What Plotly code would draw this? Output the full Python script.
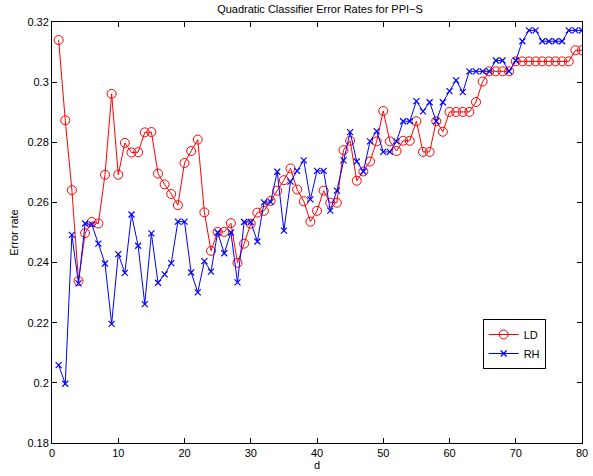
import plotly.graph_objects as go

d = list(range(1, 81))

ld = [0.3140, 0.2873, 0.2641, 0.2339, 0.2498, 0.2535, 0.2530, 0.2692, 0.2961, 0.2692,
      0.2798, 0.2766, 0.2767, 0.2833, 0.2834, 0.2696, 0.2660, 0.2628, 0.2591, 0.2731,
      0.2771, 0.2809, 0.2567, 0.2439, 0.2502, 0.2502, 0.2531, 0.2399, 0.2463, 0.2529,
      0.2566, 0.2572, 0.2605, 0.2639, 0.2674, 0.2713, 0.2643, 0.2604, 0.2536, 0.2572,
      0.2639, 0.2599, 0.2599, 0.2774, 0.2805, 0.2672, 0.2703, 0.2736, 0.2803, 0.2904,
      0.2803, 0.2771, 0.2805, 0.2805, 0.2870, 0.2768, 0.2768, 0.2870, 0.2835, 0.2901,
      0.2901, 0.2901, 0.2901, 0.2934, 0.3002, 0.3036, 0.3036, 0.3036, 0.3036, 0.3069,
      0.3069, 0.3069, 0.3069, 0.3069, 0.3069, 0.3069, 0.3069, 0.3069, 0.3106, 0.3106]

rh = [0.2059, 0.1997, 0.2492, 0.2331, 0.2530, 0.2527, 0.2463, 0.2397, 0.2196, 0.2428,
      0.2366, 0.2560, 0.2456, 0.2262, 0.2497, 0.2333, 0.2361, 0.2398, 0.2536, 0.2536,
      0.2367, 0.2301, 0.2405, 0.2370, 0.2500, 0.2431, 0.2500, 0.2334, 0.2535, 0.2535,
      0.2470, 0.2600, 0.2602, 0.2702, 0.2506, 0.2669, 0.2705, 0.2740, 0.2610, 0.2705,
      0.2705, 0.2573, 0.2639, 0.2740, 0.2834, 0.2736, 0.2703, 0.2803, 0.2837, 0.2768,
      0.2768, 0.2803, 0.2870, 0.2870, 0.2937, 0.2903, 0.2933, 0.2870, 0.2933, 0.2970,
      0.3006, 0.2967, 0.3036, 0.3036, 0.3036, 0.3036, 0.3072, 0.3072, 0.3036, 0.3072,
      0.3136, 0.3172, 0.3172, 0.3136, 0.3136, 0.3136, 0.3136, 0.3172, 0.3172, 0.3172]

xticks = [0, 10, 20, 30, 40, 50, 60, 70, 80]
yticks = [0.18, 0.20, 0.22, 0.24, 0.26, 0.28, 0.30, 0.32]
ytick_text = ["0.18", "0.2", "0.22", "0.24", "0.26", "0.28", "0.3", "0.32"]

FONT = "Liberation Sans, Arial, Helvetica, sans-serif"

fig = go.Figure()
fig.add_trace(go.Scatter(
    x=d, y=ld, name="LD", mode="lines+markers",
    line=dict(color="#ff0000", width=1),
    marker=dict(symbol="circle-open", size=9, color="#ff0000", line=dict(width=1)),
))
fig.add_trace(go.Scatter(
    x=d, y=rh, name="RH", mode="lines+markers",
    line=dict(color="#0000ff", width=1),
    marker=dict(symbol="x-thin-open", size=6, color="#0000ff", line=dict(width=1.2, color="#0000ff")),
))

axis_common = dict(
    showline=True, linecolor="black", linewidth=1, mirror="ticks",
    ticks="inside", ticklen=5, tickcolor="black", tickwidth=1,
    showgrid=False, zeroline=False, ticklabeloverflow="allow",
    tickfont=dict(family=FONT, size=11, color="black"),
)

fig.update_layout(
    width=593, height=476,
    margin=dict(l=52, r=5, t=22, b=33),
    paper_bgcolor="white", plot_bgcolor="white",
    font=dict(family=FONT, size=11, color="black"),
    title=dict(text="Quadratic Classifier Error Rates for PPI\u2212S",
               x=(52 + 588) / 2 / 593, xanchor="center", y=0.988, yanchor="top",
               font=dict(family=FONT, size=11, color="black")),
    xaxis=dict(range=[0, 80], tickvals=xticks,
               title=dict(text="d", standoff=3, font=dict(family=FONT, size=11)),
               **axis_common),
    yaxis=dict(range=[0.18, 0.32], tickvals=yticks, ticktext=ytick_text,
               title=dict(text="Error rate", standoff=6, font=dict(family=FONT, size=11)),
               **axis_common),
    legend=dict(x=0.8125, y=0.2945, xanchor="left", yanchor="top",
                bgcolor="white", bordercolor="black", borderwidth=1,
                font=dict(family=FONT, size=11, color="black"),
                itemwidth=30, tracegroupgap=0),
    showlegend=True,
)

fig.write_html("out.html")
